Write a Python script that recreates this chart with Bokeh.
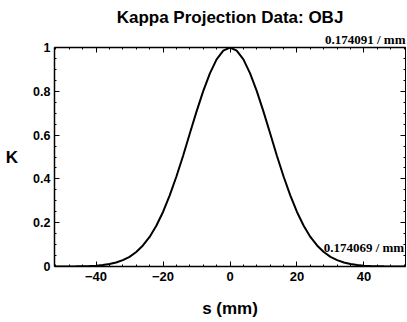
from bokeh.plotting import figure
from bokeh.models import (Range1d, LinearAxis, SingleIntervalTicker, Label, Title,
                          CustomJSTickFormatter)
from bokeh.embed import file_html
from bokeh.resources import INLINE

# Data
s_mm = [-52, -50, -48, -46, -44, -42, -40, -38, -36, -34, -32, -30, -28, -26,
        -24, -22, -20, -18, -16, -14, -12, -10, -8, -6, -4, -2, 0,
        2, 4, 6, 8, 10, 12, 14, 16, 18, 20, 22, 24, 26, 28, 30, 32, 34,
        36, 38, 40, 42, 44, 46, 48, 50, 52]
kappa = [0.0001, 0.0002, 0.0003, 0.0006, 0.0012, 0.0022, 0.0039, 0.0067, 0.011,
         0.018, 0.029, 0.044, 0.066, 0.096, 0.135, 0.186, 0.249, 0.325, 0.411,
         0.506, 0.607, 0.707, 0.801, 0.882, 0.946, 0.986, 1.0,
         0.986, 0.946, 0.882, 0.801, 0.707, 0.607, 0.506, 0.411, 0.325, 0.249,
         0.186, 0.135, 0.096, 0.066, 0.044, 0.029, 0.018, 0.011, 0.0067, 0.0039,
         0.0022, 0.0012, 0.0006, 0.0003, 0.0002, 0.0001]
title_text = "Kappa Projection Data: OBJ"
x_label = "s (mm)"
y_label = "K"
top_note = "0.174091 / mm"
bottom_note = "0.174069 / mm"

SANS = "Liberation Sans"
SERIF = "Liberation Serif"

p = figure(width=407, height=322, output_backend="svg", toolbar_location=None,
           x_range=Range1d(-52.4, 52.4), y_range=Range1d(0, 1),
           min_border_left=54, min_border_right=2, min_border_top=47,
           min_border_bottom=56, background_fill_color="white",
           border_fill_color="white")
p.xgrid.visible = False
p.ygrid.visible = False
p.outline_line_color = None
p.xaxis.visible = False
p.yaxis.visible = False

blank = CustomJSTickFormatter(code="return ''")

def style(ax, labels=True, size="12px"):
    ax.axis_line_color = "black"
    ax.axis_line_width = 1.5
    ax.major_tick_in = 5
    ax.major_tick_out = 0
    ax.minor_tick_in = 2
    ax.minor_tick_out = 0
    ax.major_tick_line_color = "black"
    ax.minor_tick_line_color = "black"
    ax.axis_label_text_font = SANS
    ax.axis_label_text_font_style = "bold"
    ax.axis_label_text_font_size = "17px"
    ax.axis_label_text_color = "black"
    if labels:
        ax.major_label_text_font = SANS
        ax.major_label_text_font_style = "bold"
        ax.major_label_text_font_size = size
        ax.major_label_text_color = "black"
    else:
        ax.formatter = blank
        ax.major_label_standoff = 0

xt = lambda: SingleIntervalTicker(interval=20, num_minor_ticks=5)
yt = lambda: SingleIntervalTicker(interval=0.2, num_minor_ticks=4)

bottom = LinearAxis(ticker=xt(), axis_label=x_label)
style(bottom, size="13px")
bottom.major_label_standoff = 5
bottom.axis_label_standoff = 15
p.add_layout(bottom, "below")

left = LinearAxis(ticker=yt(), axis_label=y_label)
style(left, size="12.5px")
left.major_label_standoff = 4
left.axis_label_standoff = 12
left.major_label_overrides = {0: "0", 1: "1"}
try:
    left.axis_label_orientation = "horizontal"
except Exception:
    pass
p.add_layout(left, "left")

top = LinearAxis(ticker=xt())
style(top, labels=False)
p.add_layout(top, "above")

right = LinearAxis(ticker=yt())
style(right, labels=False)
right.axis_line_width = 1
p.add_layout(right, "right")

p.add_layout(Title(text=top_note, align="right", text_font=SERIF,
                   text_font_style="bold", text_font_size="13px",
                   text_color="black", offset=0, standoff=1), "above")
p.add_layout(Title(text=title_text, align="center", text_font=SANS,
                   text_font_style="bold", text_font_size="17px",
                   text_color="black", standoff=5), "above")

p.line(s_mm, kappa, line_color="black", line_width=2)

p.add_layout(Label(x=52.0, y=0.087, text=bottom_note, text_font=SERIF,
                   text_font_style="bold", text_font_size="13px",
                   text_align="right", text_baseline="middle",
                   text_color="black"))

open("out.html", "w").write(file_html(p, INLINE))
